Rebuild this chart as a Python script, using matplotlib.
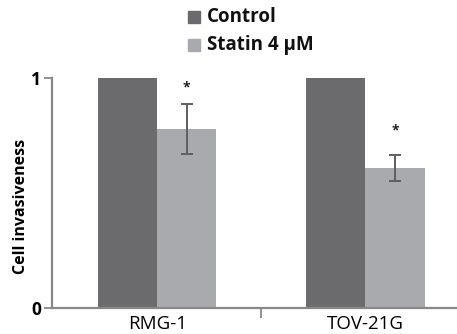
import matplotlib
matplotlib.use("Agg")
import matplotlib.pyplot as plt
from matplotlib.patches import Rectangle
import numpy as np

categories = ["RMG-1", "TOV-21G"]
series_names = ["Control", "Statin 4 \u00b5M"]
control = [1.0, 1.0]
statin = [0.778, 0.609]
statin_err = [0.11, 0.058]
asterisk_y = [0.957, 0.77]
colors = ["#6b6b6e", "#a9aaad"]

plt.rcParams['font.family'] = ['Open Sans', 'DejaVu Sans']

W, H = 457, 334
fig = plt.figure(figsize=(W/100, H/100), dpi=100)
ax = fig.add_axes([52/W, 26/H, 1 - 52/W, (308-78)/H])

x = np.arange(len(categories))
w = 0.284
ax.bar(x - w/2, control, w, color=colors[0])
ax.bar(x + w/2, statin, w, color=colors[1])
ax.errorbar(x + w/2, statin, yerr=statin_err, fmt='none', ecolor='#5f5f62',
            elinewidth=1.4, capsize=4, capthick=1.4)
for xi, ay in zip(x, asterisk_y):
    ax.text(xi + w/2, ay, "*", ha='center', va='center',
            fontsize=10, fontweight='bold', color='#222222')

ax.set_xlim(-0.505, 1.44)
ax.set_ylim(0, 1)
ax.set_yticks([0, 1])
ax.set_yticklabels(["0", "1"], fontsize=12.5, fontweight='bold')
ax.set_xticks([0.5])
ax.set_xticklabels([""])
ax.tick_params(axis='x', length=7, width=1.3, color='#888888', direction='out')
ax.tick_params(axis='y', length=6, width=1.3, color='#888888', pad=2)
for i, c in enumerate(categories):
    ax.text(i, -0.03, c, ha='center', va='top', fontsize=13.5)
for s in ['top', 'right']:
    ax.spines[s].set_visible(False)
for s in ['left', 'bottom']:
    ax.spines[s].set_color('#888888')
    ax.spines[s].set_linewidth(1.6)

fig.text(21/W, 1 - 206/H, "Cell invasiveness", rotation=90, ha='center', va='center',
         fontsize=11.5, fontweight='bold')

# legend
for i, (name, col) in enumerate(zip(series_names, colors)):
    yc = 17 + 28 * i
    fig.patches.append(Rectangle((188/W, 1 - (yc + 6)/H), 12/W, 12/H,
                                 transform=fig.transFigure, color=col))
    fig.text(207/W, 1 - yc/H, name, ha='left', va='center',
             fontsize=13.5, fontweight='bold', color='#111111')

fig.savefig("out.png", dpi=100)
